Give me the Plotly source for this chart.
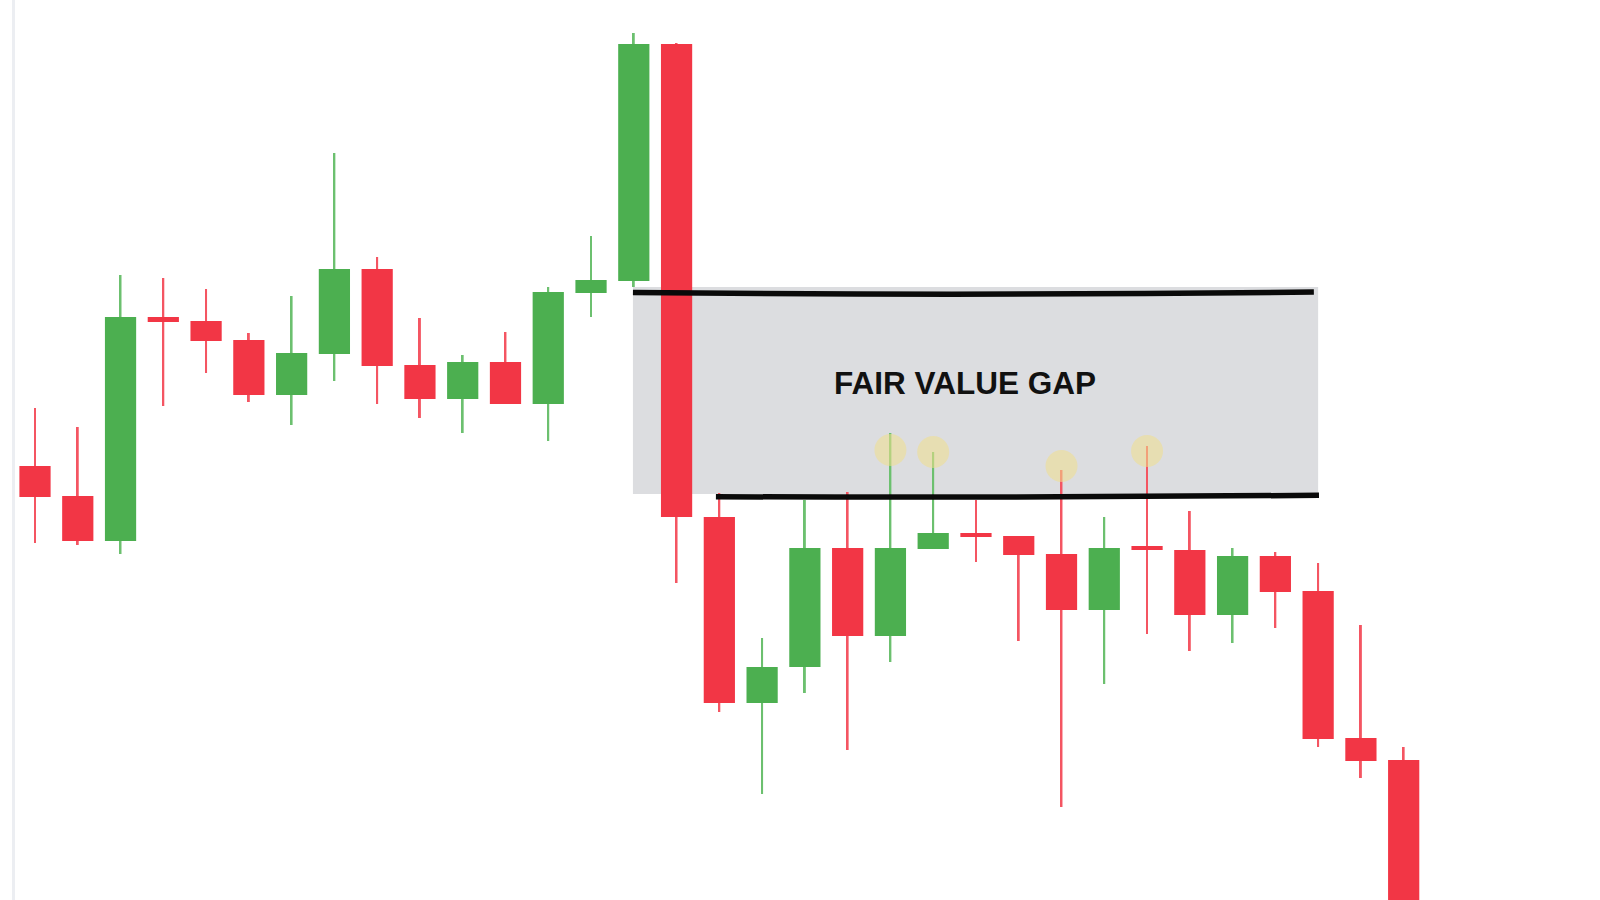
import plotly.graph_objects as go

# ---- data (price units) ----
idx = list(range(33))
opens  = [434, 404, 359, 583, 579, 560, 505, 546, 631, 535, 501, 538, 496, 607, 619,
          856, 383, 197, 233, 352, 264, 351, 367, 364, 346, 290, 352, 350, 285, 344,
          309, 162, 140]
highs  = [492, 473, 625, 622, 611, 567, 604, 747, 643, 582, 545, 568, 613, 664, 867,
          857, 407, 262, 400, 408, 467, 448, 400, 364, 430, 383, 454, 389, 352, 348,
          337, 275, 153]
lows   = [357, 355, 346, 494, 527, 498, 475, 519, 496, 482, 467, 496, 459, 583, 613,
          317, 188, 106, 207, 150, 238, 351, 338, 259, 93, 216, 266, 249, 257, 272,
          153, 122, -80]
closes = [403, 359, 583, 578, 559, 505, 547, 631, 534, 501, 538, 496, 608, 620, 856,
          383, 197, 233, 352, 264, 352, 367, 363, 345, 290, 352, 350, 285, 344, 308,
          161, 139, -60]

# wick tops that re-entered the gap (highlighted)
touch_idx = [20, 21, 24, 26]
touch_y = [450, 448, 434, 449]

label_text = "FAIR VALUE GAP"

# gap bounds taken from the candles
fvg_left, fvg_right = 14, 30
fvg_top = lows[14]
fvg_bottom = highs[16]

GREEN = "#4caf50"
RED = "#f23645"
GREEN_WICK = "#6cc06f"
RED_WICK = "#f45562"

up = [c >= o for o, c in zip(opens, closes)]
body_base = [min(o, c) for o, c in zip(opens, closes)]
body_h = [max(abs(c - o), 4) for o, c in zip(opens, closes)]
body_col = [GREEN if u else RED for u in up]
wick_col = [GREEN_WICK if u else RED_WICK for u in up]
wick_h = [h - l for h, l in zip(highs, lows)]

fig = go.Figure()
# wicks
fig.add_trace(go.Bar(
    x=idx, y=wick_h, base=lows, width=0.045,
    marker=dict(color=wick_col, line=dict(width=0)),
    showlegend=False, hoverinfo="skip",
))
# bodies
fig.add_trace(go.Bar(
    x=idx, y=body_h, base=body_base, width=0.73,
    marker=dict(color=body_col, line=dict(width=0)),
    showlegend=False, hoverinfo="skip",
))
fig.add_trace(go.Scatter(
    x=touch_idx, y=touch_y, mode="markers",
    marker=dict(size=32, color="rgba(240,222,140,0.55)", line=dict(width=0)),
    showlegend=False, hoverinfo="skip",
))

shapes = [
    # gap box
    dict(type="rect", xref="x", yref="y", x0=fvg_left - 0.02, x1=fvg_right,
         y0=fvg_bottom - 1, y1=fvg_top, fillcolor="#dcdde0", line=dict(width=0),
         layer="below"),
    # hand drawn top line
    dict(type="path", xref="x", yref="y",
         path=f"M {fvg_left - 0.02},{fvg_top - 5.5} Q 22,{fvg_top - 9} 29.9,{fvg_top - 5}",
         line=dict(color="#0a0a0a", width=5.5), layer="above"),
    # hand drawn bottom line
    dict(type="path", xref="x", yref="y",
         path=f"M 15.92,{fvg_bottom - 3.7} Q 23,{fvg_bottom - 5} 30.02,{fvg_bottom - 2.2}",
         line=dict(color="#0a0a0a", width=5.5), layer="above"),
    # faint left border
    dict(type="line", xref="paper", yref="paper", x0=13.5 / 1600, x1=13.5 / 1600,
         y0=0, y1=1, line=dict(color="#eceef2", width=3), layer="below"),
]

fig.update_layout(
    width=1600, height=900,
    margin=dict(l=0, r=0, t=0, b=0),
    paper_bgcolor="white", plot_bgcolor="white",
    shapes=shapes,
    barmode="overlay",
    xaxis=dict(range=[-0.8183, 36.59], visible=False, fixedrange=True),
    yaxis=dict(range=[0, 900], visible=False, fixedrange=True),
    annotations=[dict(
        x=21.74, y=517, xref="x", yref="y", text=f"<b>{label_text}</b>",
        showarrow=False, font=dict(family="Liberation Sans, Arial, sans-serif",
                                   size=31.5, color="#111111"),
        xanchor="center", yanchor="middle",
    )],
)

fig.write_html("out.html", config={"displayModeBar": False},
               post_script="document.body.style.margin='0';")
